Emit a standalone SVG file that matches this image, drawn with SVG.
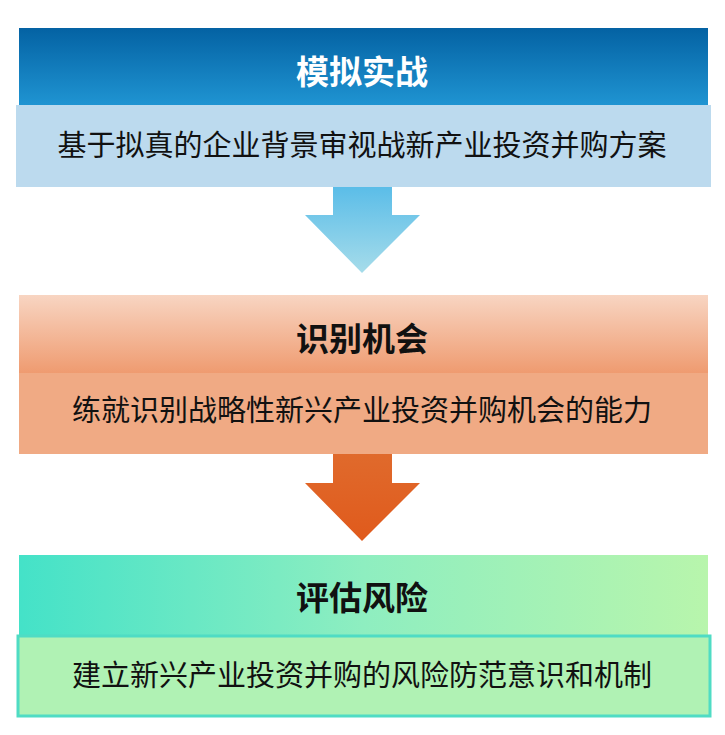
<svg xmlns="http://www.w3.org/2000/svg" width="725" height="735" viewBox="0 0 725 735">
<style>
.t{font-family:"Noto Sans CJK SC","Noto Sans",sans-serif;font-weight:bold;font-size:33px;text-anchor:middle}
.s{font-family:"Noto Sans CJK SC","Noto Sans",sans-serif;font-size:29px;text-anchor:middle;fill:#111}
</style>
<defs>
<linearGradient id="g1" x1="0" y1="0" x2="0" y2="1"><stop offset="0" stop-color="#0462a3"/><stop offset="1" stop-color="#1f94d2"/></linearGradient>
<linearGradient id="a1" x1="0" y1="0" x2="0" y2="1"><stop offset="0" stop-color="#5bbde8"/><stop offset="1" stop-color="#a6dcea"/></linearGradient>
<linearGradient id="g2" x1="0" y1="0" x2="0" y2="1"><stop offset="0" stop-color="#f8d5c2"/><stop offset="1" stop-color="#ef9b70"/></linearGradient>
<linearGradient id="a2" x1="0" y1="0" x2="0" y2="1"><stop offset="0" stop-color="#e06a2c"/><stop offset="1" stop-color="#e05a1c"/></linearGradient>
<linearGradient id="g3" x1="0" y1="0" x2="1" y2="0"><stop offset="0" stop-color="#44e2c8"/><stop offset="0.5" stop-color="#8eeec0"/><stop offset="1" stop-color="#b8f5ac"/></linearGradient>
</defs>
<g id="connectors">
<polygon points="333,187 392,187 392,215 420,215 362,273 305,215 333,215" fill="url(#a1)"/>
<polygon points="333,454 392,454 392,483 420,483 362,541 305,483 333,483" fill="url(#a2)"/>
</g>
<g id="node1">
<rect x="19" y="28" width="689" height="77" fill="url(#g1)"/>
<text class="t" x="362" y="84" fill="#fff">模拟实战</text>
<rect x="16" y="105" width="695" height="82" fill="#bcdaee"/>
<text class="s" x="362" y="156">基于拟真的企业背景审视战新产业投资并购方案</text>
</g>
<g id="node2">
<rect x="19" y="295" width="689" height="78" fill="url(#g2)"/>
<text class="t" x="362" y="351" fill="#111">识别机会</text>
<rect x="19" y="373" width="689" height="81" fill="#f0aa84"/>
<text class="s" x="362" y="421">练就识别战略性新兴产业投资并购机会的能力</text>
</g>
<g id="node3">
<rect x="19" y="555" width="689" height="80" fill="url(#g3)"/>
<text class="t" x="362" y="610" fill="#111">评估风险</text>
<rect x="18" y="636" width="692" height="80" fill="#b0f2b4" stroke="#4fdcc4" stroke-width="3"/>
<text class="s" x="362" y="686">建立新兴产业投资并购的风险防范意识和机制</text>
</g>
</svg>
